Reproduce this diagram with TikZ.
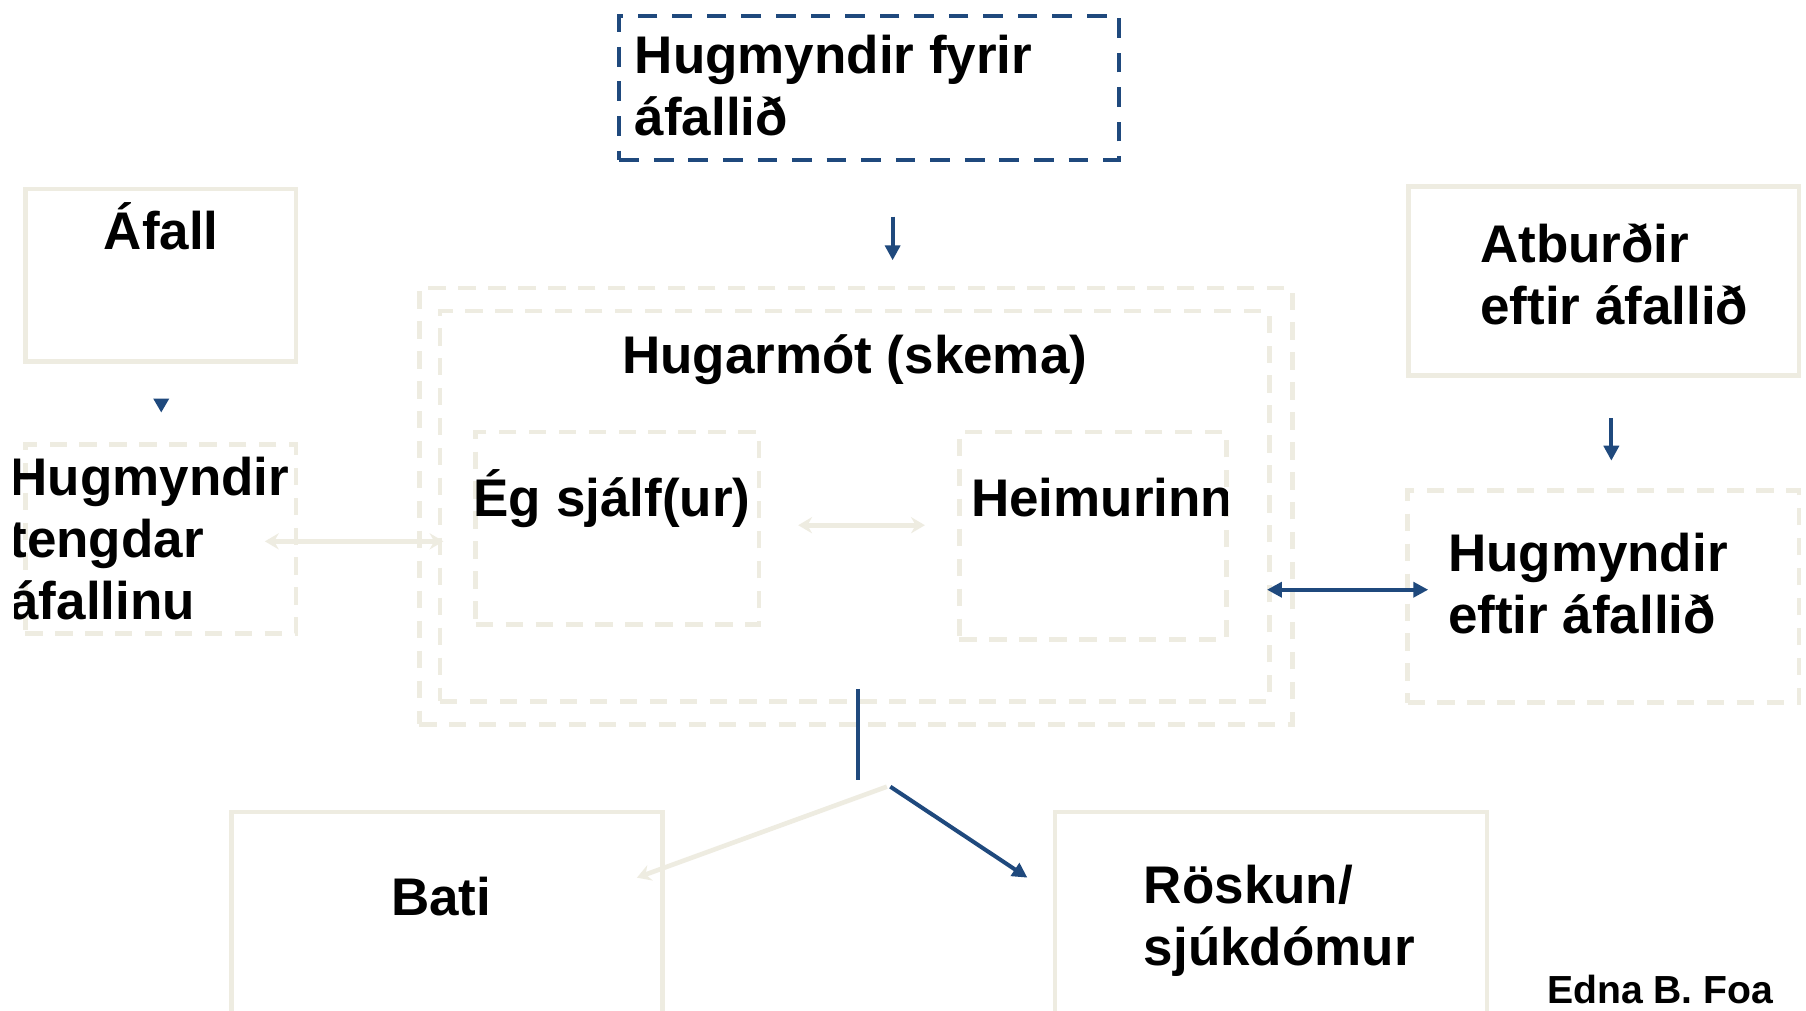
\documentclass[tikz,border=0pt]{standalone}
\usepackage{fontspec}
\setmainfont{Liberation Sans}
\usetikzlibrary{arrows.meta}
\definecolor{beige}{HTML}{EEECE1}
\definecolor{navy}{HTML}{1F497D}
\begin{document}
\begin{tikzpicture}[x=1pt,y=-1pt,
  solidbox/.style={draw=beige, line width=4pt, inner sep=0pt, anchor=north west},
  dashbox/.style={draw=beige, line width=4pt, dash pattern=on 15pt off 11pt, inner sep=0pt, anchor=north west},
  bluedashbox/.style={draw=navy, line width=3.5pt, dash pattern=on 17pt off 13pt, inner sep=0pt, anchor=north west},
  lbl/.style={font=\fontsize{46}{54}\selectfont\bfseries, inner sep=0pt, align=left, anchor=base west},
  bluearrow/.style={draw=navy, line width=3.5pt, -{Triangle[width=13pt,length=13pt]}},
  bluedouble/.style={draw=navy, line width=3.5pt, {Triangle[width=13pt,length=13pt]}-{Triangle[width=13pt,length=13pt]}},
  lightarrow/.style={draw=beige, line width=4pt, -{Stealth[width=14pt,length=12pt,inset=4pt]}},
  lightdouble/.style={draw=beige, line width=4pt, {Stealth[width=14pt,length=12pt,inset=4pt]}-{Stealth[width=14pt,length=12pt,inset=4pt]}},
  blueline/.style={draw=navy, line width=3.5pt}
]
\useasboundingbox (0,0) rectangle (1568,877);
\fill[white] (0,0) rectangle (1568,877);

% boxes
\node[bluedashbox, minimum width=434pt, minimum height=125pt] (topbox) at (536,12) {};
\node[solidbox, minimum width=235pt, minimum height=150pt] (afallbox) at (20,162) {};
\node[dashbox, minimum width=235pt, minimum height=164pt] (tengdbox) at (20,384) {};
\node[dashbox, minimum width=758pt, minimum height=379pt] (outerbox) at (362,248) {};
\node[dashbox, minimum width=720pt, minimum height=339pt] (innerbox) at (380,268) {};
\node[dashbox, minimum width=246pt, minimum height=167pt] (egbox) at (411,373) {};
\node[dashbox, minimum width=232pt, minimum height=180pt] (heimbox) at (831,373) {};
\node[solidbox, minimum width=339pt, minimum height=164pt] (atbbox) at (1221,160) {};
\node[dashbox, minimum width=340pt, minimum height=184pt] (eftirbox) at (1220,424) {};
\node[solidbox, minimum width=374pt, minimum height=210pt] (batibox) at (199,703) {};
\node[solidbox, minimum width=375pt, minimum height=210pt] (roskbox) at (914,703) {};

% texts (base anchor of a multi-line node = last line baseline)
\node[lbl] (toptxt) at (551,118) {Hugmyndir fyrir\\áfallið};
\node[lbl, anchor=base] (afalltxt) at (140,217) {Áfall};
\begin{scope}
\clip (13,370) rectangle (300,560);
\node[lbl] (tengdtxt) at (8,538) {Hugmyndir\\tengdar\\áfallinu};
\end{scope}
\node[lbl, anchor=base] (hugtxt) at (742,324) {Hugarmót (skema)};
\node[lbl] (egtxt) at (411,448) {Ég sjálf(ur)};
\begin{scope}
\clip (830,380) rectangle (1066,470);
\node[lbl] (heimtxt) at (843,448) {Heimurinn};
\end{scope}
\node[lbl] (atbtxt) at (1285,282) {Atburðir\\eftir áfallið};
\node[lbl] (eftirtxt) at (1257,550) {Hugmyndir\\eftir áfallið};
\node[lbl, anchor=base] (batitxt) at (383,795) {Bati};
\node[lbl] (rosktxt) at (993,838) {Röskun/\\sjúkdómur};
\node[lbl, font=\fontsize{34}{40}\selectfont\bfseries] (ednatxt) at (1343,871) {Edna B. Foa};

% connector end points
\coordinate (a1s) at (775,188); \coordinate (a1e) at (775,226);
\coordinate (tri1) at (133,346); \coordinate (tri2) at (147,346); \coordinate (tri3) at (140,358);
\coordinate (l1s) at (230,470); \coordinate (l1e) at (385,470);
\coordinate (l2s) at (693,456); \coordinate (l2e) at (803,456);
\coordinate (b2s) at (1100,512); \coordinate (b2e) at (1240,512);
\coordinate (a3s) at (1399,363); \coordinate (a3e) at (1399,400);
\coordinate (vs) at (745,598); \coordinate (ve) at (745,677);
\coordinate (ls) at (770,683); \coordinate (le) at (553,762);
\coordinate (rs) at (773,683); \coordinate (re) at (892,762);

% connectors
\draw[bluearrow] (a1s) -- (a1e);
\fill[navy] (tri1) -- (tri2) -- (tri3) -- cycle;
\draw[lightdouble] (l1s) -- (l1e);
\draw[lightdouble] (l2s) -- (l2e);
\draw[bluedouble] (b2s) -- (b2e);
\draw[bluearrow] (a3s) -- (a3e);
\draw[blueline] (vs) -- (ve);
\draw[lightarrow] (ls) -- (le);
\draw[bluearrow] (rs) -- (re);
\end{tikzpicture}
\end{document}
